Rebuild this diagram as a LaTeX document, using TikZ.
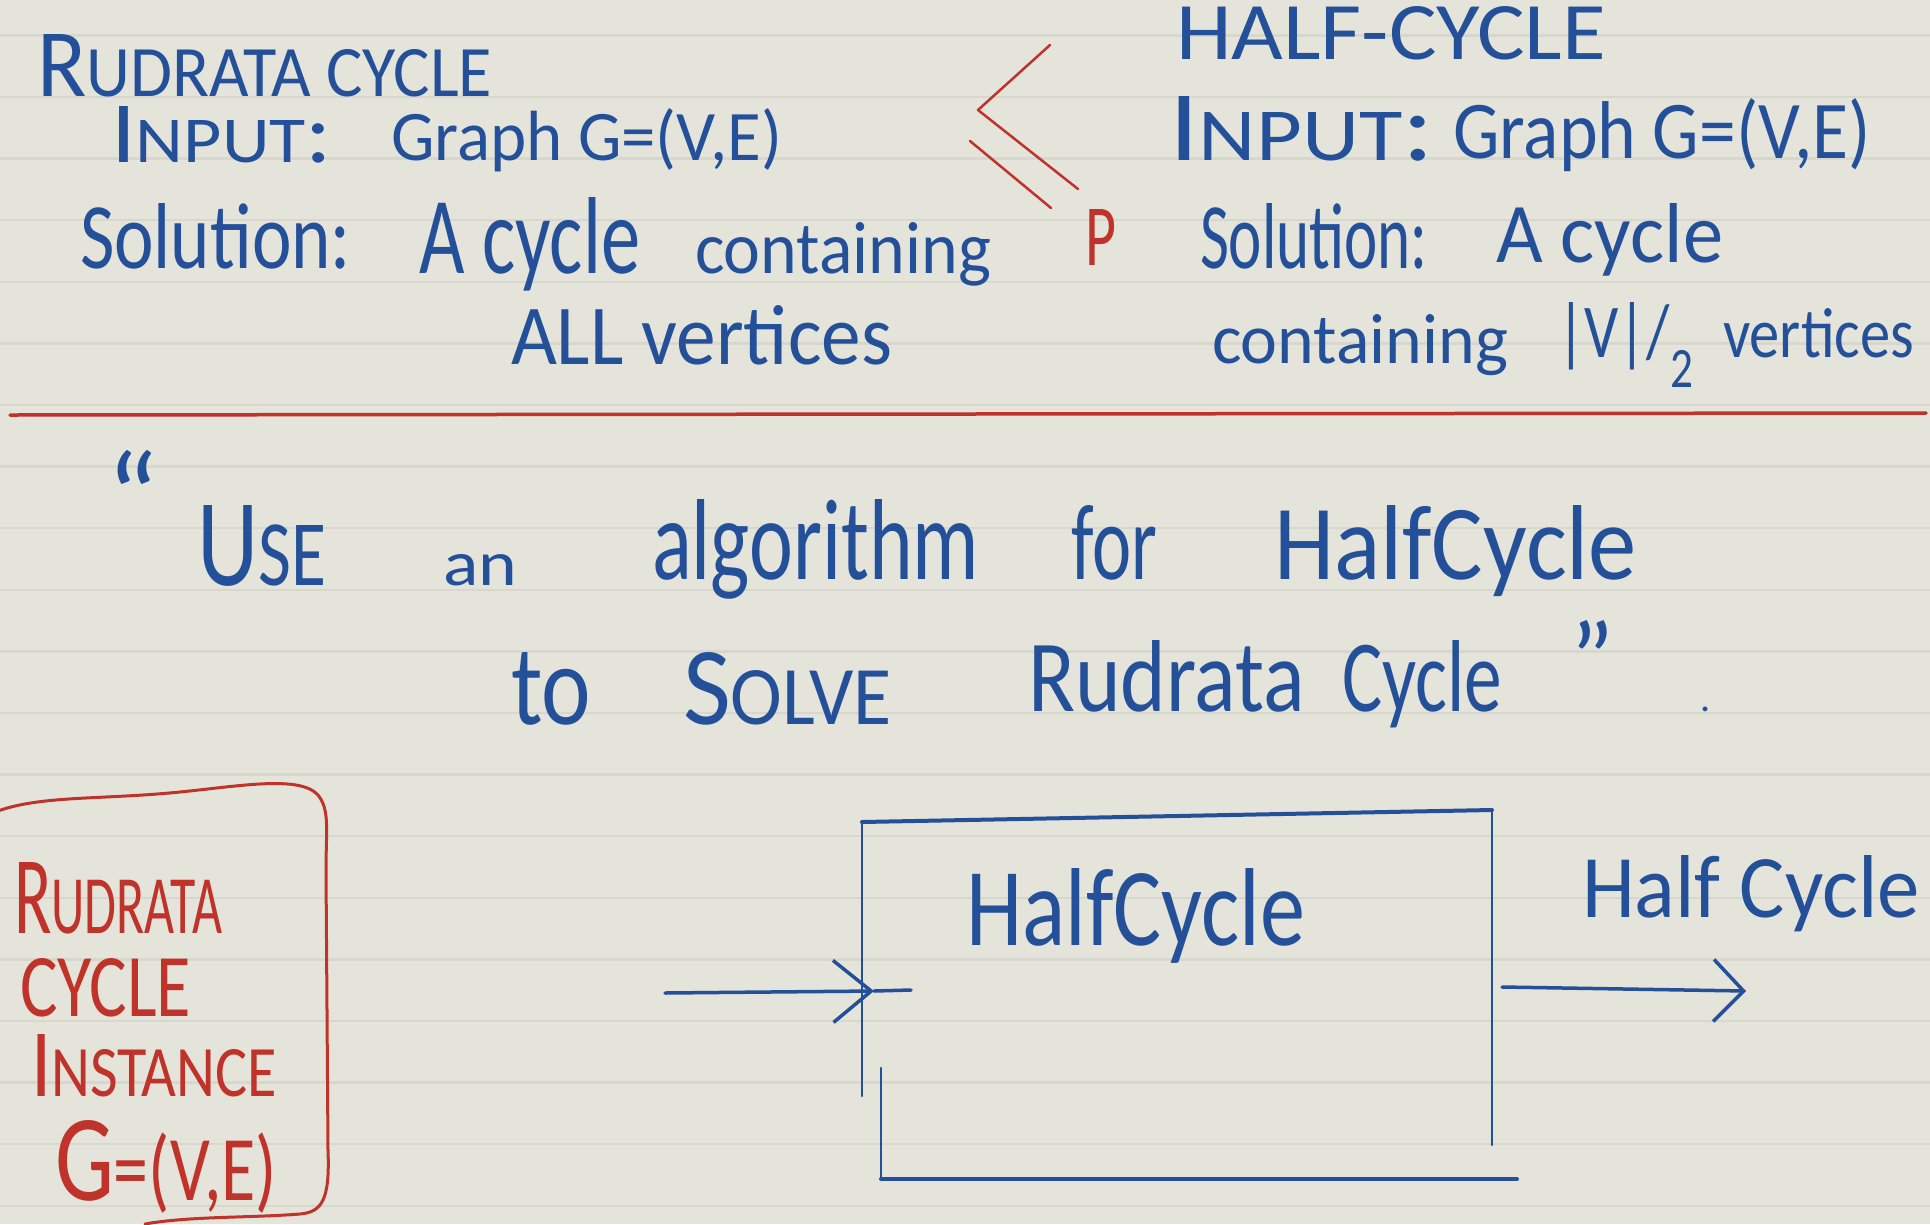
\documentclass[tikz,border=0pt]{standalone}
\usepackage{fontspec}
\setmainfont{Carlito}
\usetikzlibrary{arrows.meta}
\definecolor{paper}{HTML}{E4E4DB}
\definecolor{rulec}{HTML}{D7D7CD}
\definecolor{ink}{HTML}{24509A}
\definecolor{redink}{HTML}{C0332B}
\newcommand\hw[3]{\resizebox{#1pt}{#2pt}{\fontsize{72}{72}\selectfont #3}}
\newcommand\smc[1]{\scalebox{0.75}{#1}}
\begin{document}
\begin{tikzpicture}[x=1pt,y=-1pt,
  txt/.style={anchor=base west, inner sep=0pt, outer sep=0pt, text=ink},
  rtxt/.style={txt, text=redink},
  inkline/.style={draw=ink, line width=3pt, line cap=round, line join=round},
  redpen/.style={draw=redink, line width=3pt, line cap=round, line join=round},
  ruled/.style={draw=rulec, line width=2.5pt}]
\fill[paper] (0,0) rectangle (1930,1224);
\useasboundingbox (0,0) rectangle (1930,1224);
\foreach \k in {-1,...,18} \draw[ruled] (0,{97+61.6*\k}) -- (1930,{97+61.6*\k});
% red separator
\draw[redpen, line width=3.5pt] (10,415) -- (1926,413);
% top left
\node[txt] (t1) at (37,96) {\hw{455}{62}{R\smc{UDRATA CYCLE}}};
\node[txt] (t2a) at (111,162) {\hw{221}{56}{I\smc{NPUT}:}};
\node[txt] (t2b) at (391,160) {\hw{391}{52}{Graph G=(V,E)}};
\node[txt] (t3a) at (80,268) {\hw{271}{65}{Solution:}};
\node[txt] (t3b) at (419,273) {\hw{221}{76}{A cycle}};
\node[txt] (t3c) at (695,273) {\hw{296}{51}{containing}};
\node[txt] (t4) at (511,364) {\hw{381}{59}{ALL vertices}};
% reduction symbol
\coordinate (le1) at (1050,45);
\coordinate (le2) at (978,110);
\coordinate (le3) at (1078,189);
\coordinate (le4) at (970,141);
\coordinate (le5) at (1051,208);
\draw[redpen, line width=2.5pt] (le1) -- (le2) -- (le3);
\draw[redpen, line width=2.5pt] (le4) -- (le5);
\node[rtxt] (pP) at (1085,265) {\hw{31}{56}{P}};
% top right
\node[txt] (r1) at (1176,59) {\hw{430}{53}{HALF-CYCLE}};
\node[txt] (r2a) at (1169,160) {\hw{265}{64}{I\smc{NPUT}:}};
\node[txt] (r2b) at (1453,158) {\hw{418}{60}{Graph G=(V,E)}};
\node[txt] (r3a) at (1200,268) {\hw{228}{65}{Solution:}};
\node[txt] (r3b) at (1496,262) {\hw{227}{59}{A cycle}};
\node[txt] (r4a) at (1212,363) {\hw{296}{49}{containing}};
\node[txt] (r4b) at (1557,357) {\hw{136}{55}{|V|/\raisebox{-0.4em}{\smc{2}}}};
\node[txt] (r4c) at (1723,357) {\hw{191}{49}{vertices}};
% middle sentence
\node[anchor=north west, inner sep=0pt, text=ink] (q1) at (106,450) {\fontsize{125}{125}\selectfont “};
\node[txt] (m1) at (197,585) {\hw{129}{80}{U\smc{SE}}};
\node[txt] (m2) at (443,585) {\hw{74}{31}{an}};
\node[txt] (m3) at (652,579) {\hw{327}{80}{algorithm}};
\node[txt] (m4) at (1071,579) {\hw{86}{74}{for}};
\node[txt] (m5) at (1274,579) {\hw{363}{74}{HalfCycle}};
\node[txt] (m6) at (511,724) {\hw{80}{72}{to}};
\node[txt] (m7) at (683,724) {\hw{209}{72}{S\smc{OLVE}}};
\node[txt] (m8) at (1028,711) {\hw{277}{71}{Rudrata}};
\node[txt] (m9) at (1342,711) {\hw{160}{71}{Cycle}};
\node[anchor=north west, inner sep=0pt, text=ink] (q2) at (1570,620) {\fontsize{105}{105}\selectfont ”};
\node[txt] (dot) at (1700,711) {\fontsize{40}{40}\selectfont .};
% red instance box
\node[rtxt] (b1) at (14,933) {\hw{208}{71}{R\smc{UDRATA}}};
\node[rtxt] (b2) at (20,1016) {\hw{171}{58}{CYCLE}};
\node[rtxt] (b3) at (31,1096) {\hw{246}{62}{I\smc{NSTANCE}}};
\node[rtxt] (b4) at (55,1200) {\hw{222}{80}{G\smc{=(V,E)}}};
\draw[redpen] (-5,812) .. controls (40,795) and (100,800) .. (180,792)
  .. controls (240,786) and (300,775) .. (318,795)
  .. controls (330,810) and (326,830) .. (326,870) -- (328,1150)
  .. controls (330,1200) and (322,1212) .. (300,1214)
  .. controls (250,1218) and (190,1216) .. (145,1224);
% HalfCycle box
\coordinate (bL) at (862,1096);
\coordinate (bTL) at (862,822);
\coordinate (bTR) at (1492,810);
\coordinate (bR) at (1492,1145);
\coordinate (bIL) at (881,1068);
\coordinate (bBL) at (881,1179);
\coordinate (bBR) at (1517,1179);
\draw[inkline, line width=2.5pt] (bL) -- (bTL);
\draw[inkline, line width=4pt] (bTL) -- (bTR);
\draw[inkline, line width=2.5pt] (bTR) -- (bR);
\draw[inkline, line width=2.5pt] (bIL) -- (bBL);
\draw[inkline, line width=4pt] (bBL) -- (bBR);
\node[txt] (h1) at (966,945) {\hw{339}{77}{HalfCycle}};
\node[txt] (h2) at (1582,917) {\hw{338}{62}{Half Cycle}};
% arrows
\coordinate (inS) at (665,993);
\coordinate (inT) at (874,991);
\coordinate (inE) at (911,990);
\draw[inkline, line width=3.5pt, -{Straight Barb[length=38pt,width=62pt]}] (inS) -- (inT);
\draw[inkline, line width=3.5pt] (inT) -- (inE);
\coordinate (outS) at (1502,987);
\coordinate (outT) at (1746,991);
\draw[inkline, line width=3.5pt, -{Straight Barb[length=30pt,width=62pt]}] (outS) -- (outT);
\end{tikzpicture}
\end{document}
